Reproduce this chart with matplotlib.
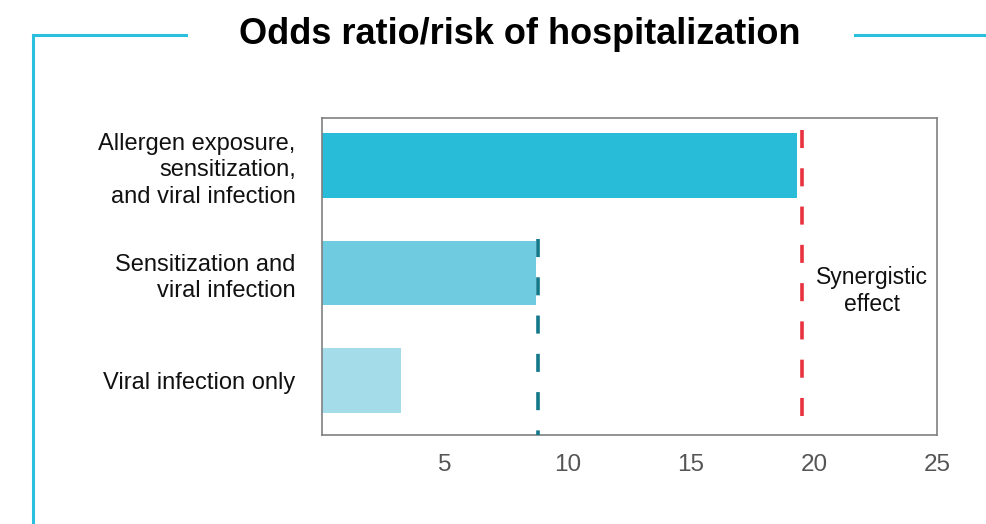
import matplotlib
matplotlib.use("Agg")
import matplotlib.pyplot as plt
from matplotlib.lines import Line2D

plt.rcParams['font.family'] = ['Liberation Sans', 'DejaVu Sans']

# === DATA ===
categories = ["Allergen exposure,\nsensitization,\nand viral infection",
              "Sensitization and\nviral infection",
              "Viral infection only"]
odds = [19.3, 8.7, 3.2]
bar_colors = ["#29bcd9", "#6fcbe0", "#a5dcea"]
synergy_line = 19.5
combo_line = 8.8
x_ticks = [5, 10, 15, 20, 25]

# === FIGURE ===
fig = plt.figure(figsize=(9.86, 5.24), dpi=100)
ax = fig.add_axes([0.3266, 0.1698, 0.6237, 0.605])

y = range(len(categories))
ax.barh(y, odds, height=0.6, color=bar_colors, zorder=2)

ax.set_ylim(2.507, -0.442)
ax.set_xlim(0, 25)

# dashed reference lines (drawn top -> bottom so the dash pattern starts at the top)
ax.vlines(synergy_line, -0.33, 2.507, colors="#e8323e", linewidth=2.6,
          linestyles=(0, (5, 5.6)), zorder=3)
ax.vlines(combo_line, 0.68, 2.507, colors="#13788a", linewidth=2.6,
          linestyles=(0, (5, 5.6)), zorder=3)

ax.text(22.35, 1.17, "Synergistic\neffect", ha="center", va="center",
        fontsize=16.5, color="#111111", linespacing=1.22)

ax.set_yticks(list(y))
ax.set_yticklabels(categories, fontsize=17, color="#111111", linespacing=1.28)
ax.set_xticks(x_ticks)
ax.set_xticklabels([str(t) for t in x_ticks], fontsize=17.5, color="#555555")
ax.tick_params(axis="both", length=0)
ax.tick_params(axis="x", pad=14)
ax.tick_params(axis="y", pad=19)

for s in ax.spines.values():
    s.set_color("#808080")
    s.set_linewidth(1.2)

# title and decorative frame
fig.text(0.527, 0.935, "Odds ratio/risk of hospitalization", ha="center",
         va="center", fontsize=26, fontweight="bold", color="#000000")
frame_color = "#2bbfdf"
fig.add_artist(Line2D([33/986, 186/986], [1-35/524, 1-35/524], color=frame_color, lw=2.2))
fig.add_artist(Line2D([33/986, 33/986], [1-35/524, 0], color=frame_color, lw=2.2))
fig.add_artist(Line2D([855/986, 1], [1-35/524, 1-35/524], color=frame_color, lw=2.2))

fig.savefig("out.png", dpi=100)
